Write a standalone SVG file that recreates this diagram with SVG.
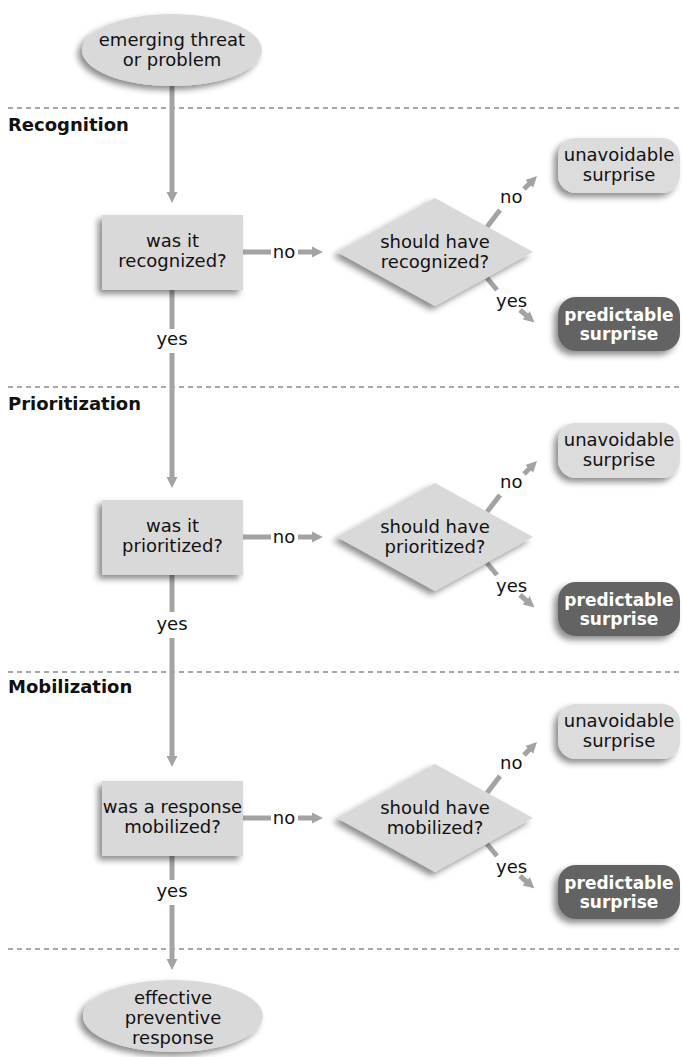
<svg xmlns="http://www.w3.org/2000/svg" width="682" height="1057" viewBox="0 0 682 1057">
<defs>
<filter id="sh" x="-20%" y="-20%" width="140%" height="150%">
<feDropShadow dx="-4" dy="4" stdDeviation="3" flood-color="#000" flood-opacity="0.45"/>
</filter>
<marker id="ah" viewBox="0 0 10 10" refX="1" refY="5" markerWidth="11" markerHeight="12" orient="auto" markerUnits="userSpaceOnUse">
<path d="M0,0 L10,5 L0,10 z" fill="#a3a3a3"/>
</marker>
</defs>
<style>
.t{font-family:"DejaVu Sans","Liberation Sans",sans-serif;font-size:18px;fill:#111;text-anchor:middle}
.tl{font-family:"DejaVu Sans","Liberation Sans",sans-serif;font-size:18px;fill:#111}
.h{font-family:"DejaVu Sans","Liberation Sans",sans-serif;font-size:18px;font-weight:bold;fill:#111}
.w{font-family:"DejaVu Sans","Liberation Sans",sans-serif;font-size:17px;font-weight:bold;fill:#fff;text-anchor:middle}
.box{fill:#d9d9d9;filter:url(#sh)}
.lt{fill:#dcdcdc;filter:url(#sh)}
.dk{fill:#636363;filter:url(#sh)}
.c{stroke:#a3a3a3;stroke-width:5;fill:none}
.ca{stroke:#a3a3a3;stroke-width:5;fill:none;marker-end:url(#ah)}
.d{stroke:#8c8c8c;stroke-width:1.3;stroke-dasharray:5 4}
</style>
<rect width="682" height="1057" fill="#fff"/>

<g id="sections">
<line class="d" x1="8" y1="108" x2="682" y2="108"/>
<line class="d" x1="8" y1="387" x2="682" y2="387"/>
<line class="d" x1="8" y1="672" x2="682" y2="672"/>
<line class="d" x1="8" y1="949" x2="682" y2="949"/>
<text class="h" x="8" y="131">Recognition</text>
<text class="h" x="8" y="410">Prioritization</text>
<text class="h" x="8" y="693">Mobilization</text>
</g>

<g id="connectors">
<line class="ca" x1="172" y1="86" x2="172" y2="193"/>
<line class="c" x1="172" y1="290" x2="172" y2="329"/>
<line class="ca" x1="172" y1="353" x2="172" y2="478"/>
<text class="t" x="172" y="345">yes</text>
<line class="c" x1="172" y1="575" x2="172" y2="612"/>
<line class="ca" x1="172" y1="638" x2="172" y2="757"/>
<text class="t" x="172" y="630">yes</text>
<line class="c" x1="172" y1="856" x2="172" y2="880"/>
<line class="ca" x1="172" y1="905" x2="172" y2="960"/>
<text class="t" x="172" y="897">yes</text>

<g id="conn-s1">
<line class="c" x1="243" y1="252" x2="271" y2="252"/>
<text class="t" x="284" y="258">no</text>
<line class="ca" x1="298" y1="252" x2="313" y2="252"/>
<line class="c" x1="487" y1="227" x2="500" y2="210"/>
<text class="tl" x="500" y="203">no</text>
<line class="ca" x1="524" y1="189" x2="530" y2="183"/>
<line class="c" x1="487" y1="278" x2="497" y2="290"/>
<text class="tl" x="496" y="307">yes</text>
<line class="ca" x1="520" y1="310" x2="527" y2="316"/>
</g>
<g id="conn-s2" transform="translate(0,285)">
<line class="c" x1="243" y1="252" x2="271" y2="252"/>
<text class="t" x="284" y="258">no</text>
<line class="ca" x1="298" y1="252" x2="313" y2="252"/>
<line class="c" x1="487" y1="227" x2="500" y2="210"/>
<text class="tl" x="500" y="203">no</text>
<line class="ca" x1="524" y1="189" x2="530" y2="183"/>
<line class="c" x1="487" y1="278" x2="497" y2="290"/>
<text class="tl" x="496" y="307">yes</text>
<line class="ca" x1="520" y1="310" x2="527" y2="316"/>
</g>
<g id="conn-s3" transform="translate(0,566)">
<line class="c" x1="243" y1="252" x2="271" y2="252"/>
<text class="t" x="284" y="258">no</text>
<line class="ca" x1="298" y1="252" x2="313" y2="252"/>
<line class="c" x1="487" y1="227" x2="500" y2="210"/>
<text class="tl" x="500" y="203">no</text>
<line class="ca" x1="524" y1="189" x2="530" y2="183"/>
<line class="c" x1="487" y1="278" x2="497" y2="290"/>
<text class="tl" x="496" y="307">yes</text>
<line class="ca" x1="520" y1="310" x2="527" y2="316"/>
</g>
</g>

<g id="start">
<ellipse class="box" cx="172" cy="50" rx="90" ry="36"/>
<text class="t" x="172" y="46">emerging threat</text>
<text class="t" x="172" y="66">or problem</text>
</g>

<g id="q-recognized">
<rect class="box" x="102" y="215" width="141" height="75"/>
<text class="t" x="172.5" y="247">was it</text>
<text class="t" x="172.5" y="267">recognized?</text>
</g>
<g id="d-recognized">
<polygon class="box" points="337,252 435,198 533,252 435,306"/>
<text class="t" x="435" y="248">should have</text>
<text class="t" x="435" y="268">recognized?</text>
</g>
<g id="u-recognition">
<rect class="lt" x="558" y="138" width="122" height="55" rx="18"/>
<text class="t" x="619" y="161">unavoidable</text>
<text class="t" x="619" y="181">surprise</text>
</g>
<g id="p-recognition">
<rect class="dk" x="558" y="297" width="122" height="54" rx="18"/>
<text class="w" x="619" y="321">predictable</text>
<text class="w" x="619" y="340">surprise</text>
</g>

<g id="q-prioritized" transform="translate(0,285)">
<rect class="box" x="102" y="215" width="141" height="75"/>
<text class="t" x="172.5" y="247">was it</text>
<text class="t" x="172.5" y="267">prioritized?</text>
</g>
<g id="d-prioritized" transform="translate(0,285)">
<polygon class="box" points="337,252 435,198 533,252 435,306"/>
<text class="t" x="435" y="248">should have</text>
<text class="t" x="435" y="268">prioritized?</text>
</g>
<g id="u-prioritization" transform="translate(0,285)">
<rect class="lt" x="558" y="138" width="122" height="55" rx="18"/>
<text class="t" x="619" y="161">unavoidable</text>
<text class="t" x="619" y="181">surprise</text>
</g>
<g id="p-prioritization" transform="translate(0,285)">
<rect class="dk" x="558" y="297" width="122" height="54" rx="18"/>
<text class="w" x="619" y="321">predictable</text>
<text class="w" x="619" y="340">surprise</text>
</g>

<g id="q-mobilized" transform="translate(0,566)">
<rect class="box" x="102" y="215" width="141" height="75"/>
<text class="t" x="172.5" y="247">was a response</text>
<text class="t" x="172.5" y="267">mobilized?</text>
</g>
<g id="d-mobilized" transform="translate(0,566)">
<polygon class="box" points="337,252 435,198 533,252 435,306"/>
<text class="t" x="435" y="248">should have</text>
<text class="t" x="435" y="268">mobilized?</text>
</g>
<g id="u-mobilization" transform="translate(0,566)">
<rect class="lt" x="558" y="138" width="122" height="55" rx="18"/>
<text class="t" x="619" y="161">unavoidable</text>
<text class="t" x="619" y="181">surprise</text>
</g>
<g id="p-mobilization" transform="translate(0,566)">
<rect class="dk" x="558" y="299" width="122" height="54" rx="18"/>
<text class="w" x="619" y="323">predictable</text>
<text class="w" x="619" y="342">surprise</text>
</g>

<g id="end">
<ellipse class="box" cx="173" cy="1016" rx="90" ry="36"/>
<text class="t" x="173" y="1004">effective</text>
<text class="t" x="173" y="1024">preventive</text>
<text class="t" x="173" y="1044">response</text>
</g>
</svg>
